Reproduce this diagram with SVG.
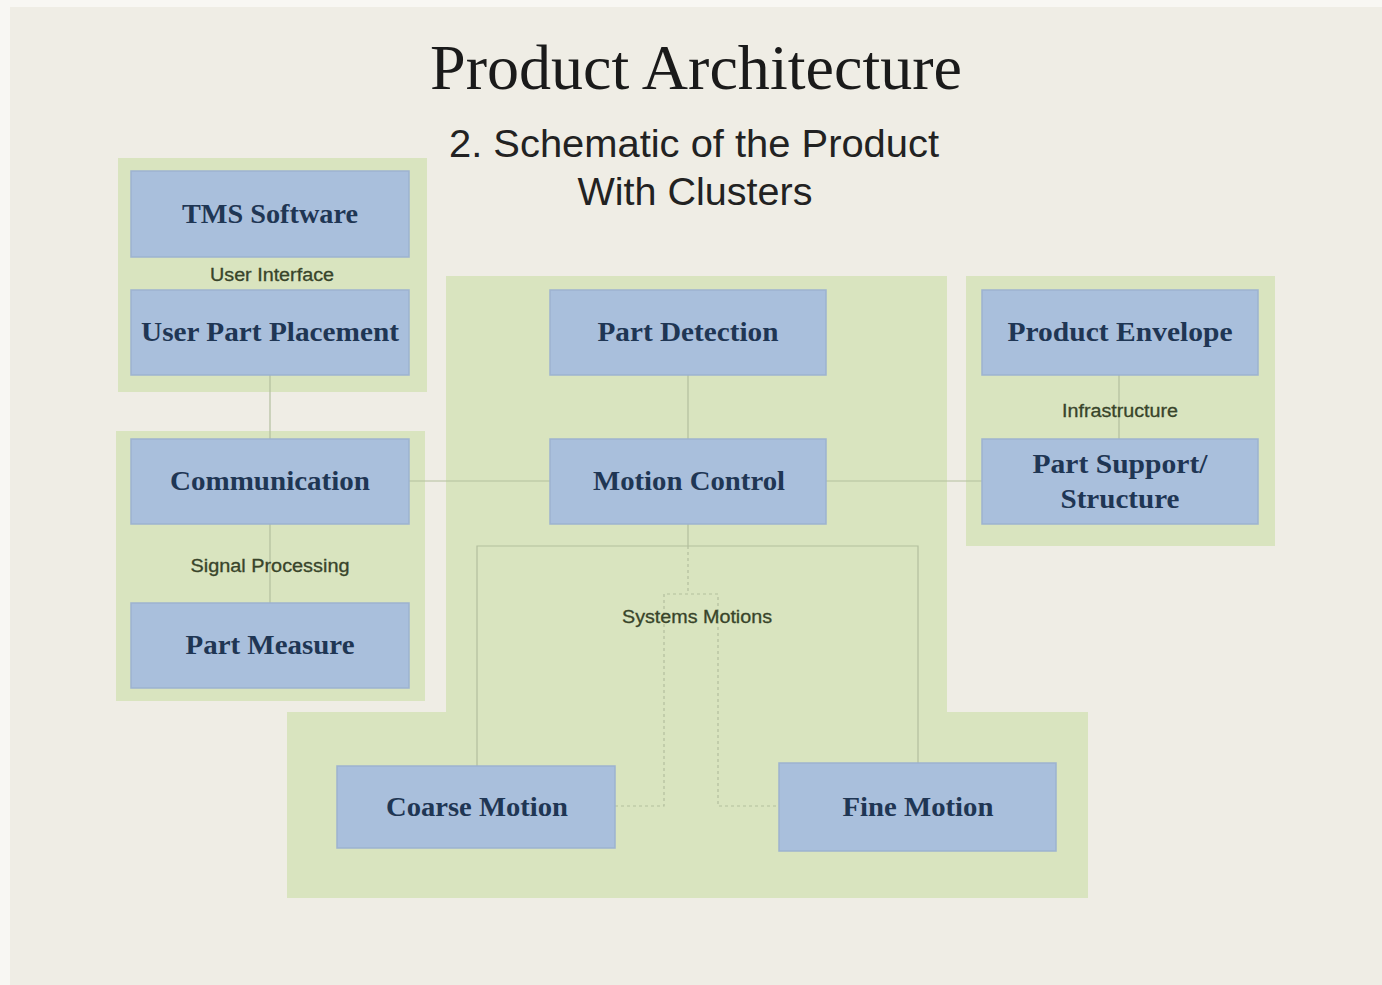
<svg xmlns="http://www.w3.org/2000/svg" width="1382" height="985" viewBox="0 0 1382 985">
  <style>
    .cluster { fill: #d9e4bf; }
    .node rect { fill: #a9bfdc; stroke: #9db3d0; stroke-width: 1.5; }
    .node text { font-family: "Liberation Serif", "Times New Roman", serif; font-weight: bold; font-size: 28px; fill: #1f3654; text-anchor: middle; }
    .lbl { font-family: "Liberation Sans", Arial, sans-serif; font-size: 18px; fill: #38442a; text-anchor: middle; stroke: #38442a; stroke-width: 0.3; }
    .conn { stroke: #b3bf9e; stroke-width: 1.2; fill: none; }
    .dash { stroke: #b3bf9e; stroke-width: 1.2; fill: none; stroke-dasharray: 3 3; }
  </style>

  <!-- page -->
  <rect x="0" y="0" width="1382" height="985" fill="#f8f7f3"/>
  <rect x="10" y="7" width="1372" height="978" fill="#efede5"/>

  <!-- headings -->
  <text x="696" y="89" font-family="Liberation Serif, Times New Roman, serif" font-size="64" fill="#1a1a1a" text-anchor="middle" textLength="532" lengthAdjust="spacingAndGlyphs">Product Architecture</text>
  <text x="694" y="157" font-family="Liberation Sans, Arial, sans-serif" font-size="38" fill="#222" text-anchor="middle" textLength="490" lengthAdjust="spacingAndGlyphs">2. Schematic of the Product</text>
  <text x="695" y="205" font-family="Liberation Sans, Arial, sans-serif" font-size="38" fill="#222" text-anchor="middle" textLength="235" lengthAdjust="spacingAndGlyphs">With Clusters</text>

  <!-- clusters -->
  <g id="clusters">
    <rect class="cluster" x="118" y="158" width="309" height="234"/>
    <rect class="cluster" x="116" y="431" width="309" height="270"/>
    <path class="cluster" d="M446 276 H947 V712 H1088 V898 H287 V712 H446 Z"/>
    <rect class="cluster" x="966" y="276" width="309" height="270"/>
  </g>

  <!-- connectors -->
  <g id="connectors">
    <line class="conn" x1="270" y1="375" x2="270" y2="439"/>
    <line class="conn" x1="270" y1="524" x2="270" y2="603"/>
    <line class="conn" x1="409" y1="481" x2="550" y2="481"/>
    <line class="conn" x1="826" y1="481" x2="982" y2="481"/>
    <line class="conn" x1="688" y1="375" x2="688" y2="439"/>
    <line class="conn" x1="1119" y1="375" x2="1119" y2="439"/>
    <line class="conn" x1="688" y1="524" x2="688" y2="546"/>
    <polyline class="conn" points="477,766 477,546 918,546 918,763"/>
    <line class="dash" x1="688" y1="546" x2="688" y2="594"/>
    <polyline class="dash" points="615,806 664,806 664,594 718,594 718,806 779,806"/>
  </g>

  <!-- cluster labels -->
  <text class="lbl" x="272" y="281" textLength="124" lengthAdjust="spacingAndGlyphs">User Interface</text>
  <text class="lbl" x="270" y="572" textLength="159" lengthAdjust="spacingAndGlyphs">Signal Processing</text>
  <text class="lbl" x="1120" y="417" textLength="116" lengthAdjust="spacingAndGlyphs">Infrastructure</text>
  <text class="lbl" x="697" y="623" textLength="150" lengthAdjust="spacingAndGlyphs">Systems Motions</text>

  <!-- nodes -->
  <g id="tms-software" class="node">
    <rect x="131" y="171" width="278" height="86"/>
    <text x="270" y="223" textLength="176" lengthAdjust="spacingAndGlyphs">TMS Software</text>
  </g>
  <g id="user-part-placement" class="node">
    <rect x="131" y="290" width="278" height="85"/>
    <text x="270" y="341" textLength="258" lengthAdjust="spacingAndGlyphs">User Part Placement</text>
  </g>
  <g id="communication" class="node">
    <rect x="131" y="439" width="278" height="85"/>
    <text x="270" y="490" textLength="200" lengthAdjust="spacingAndGlyphs">Communication</text>
  </g>
  <g id="part-measure" class="node">
    <rect x="131" y="603" width="278" height="85"/>
    <text x="270" y="654" textLength="169" lengthAdjust="spacingAndGlyphs">Part Measure</text>
  </g>
  <g id="part-detection" class="node">
    <rect x="550" y="290" width="276" height="85"/>
    <text x="688" y="341" textLength="181" lengthAdjust="spacingAndGlyphs">Part Detection</text>
  </g>
  <g id="motion-control" class="node">
    <rect x="550" y="439" width="276" height="85"/>
    <text x="689" y="490" textLength="192" lengthAdjust="spacingAndGlyphs">Motion Control</text>
  </g>
  <g id="product-envelope" class="node">
    <rect x="982" y="290" width="276" height="85"/>
    <text x="1120" y="341" textLength="225" lengthAdjust="spacingAndGlyphs">Product Envelope</text>
  </g>
  <g id="part-support-structure" class="node">
    <rect x="982" y="439" width="276" height="85"/>
    <text x="1120" y="473" textLength="175" lengthAdjust="spacingAndGlyphs">Part Support/</text>
    <text x="1120" y="508" textLength="119" lengthAdjust="spacingAndGlyphs">Structure</text>
  </g>
  <g id="coarse-motion" class="node">
    <rect x="337" y="766" width="278" height="82"/>
    <text x="477" y="816" textLength="182" lengthAdjust="spacingAndGlyphs">Coarse Motion</text>
  </g>
  <g id="fine-motion" class="node">
    <rect x="779" y="763" width="277" height="88"/>
    <text x="918" y="816" textLength="151" lengthAdjust="spacingAndGlyphs">Fine Motion</text>
  </g>
</svg>
